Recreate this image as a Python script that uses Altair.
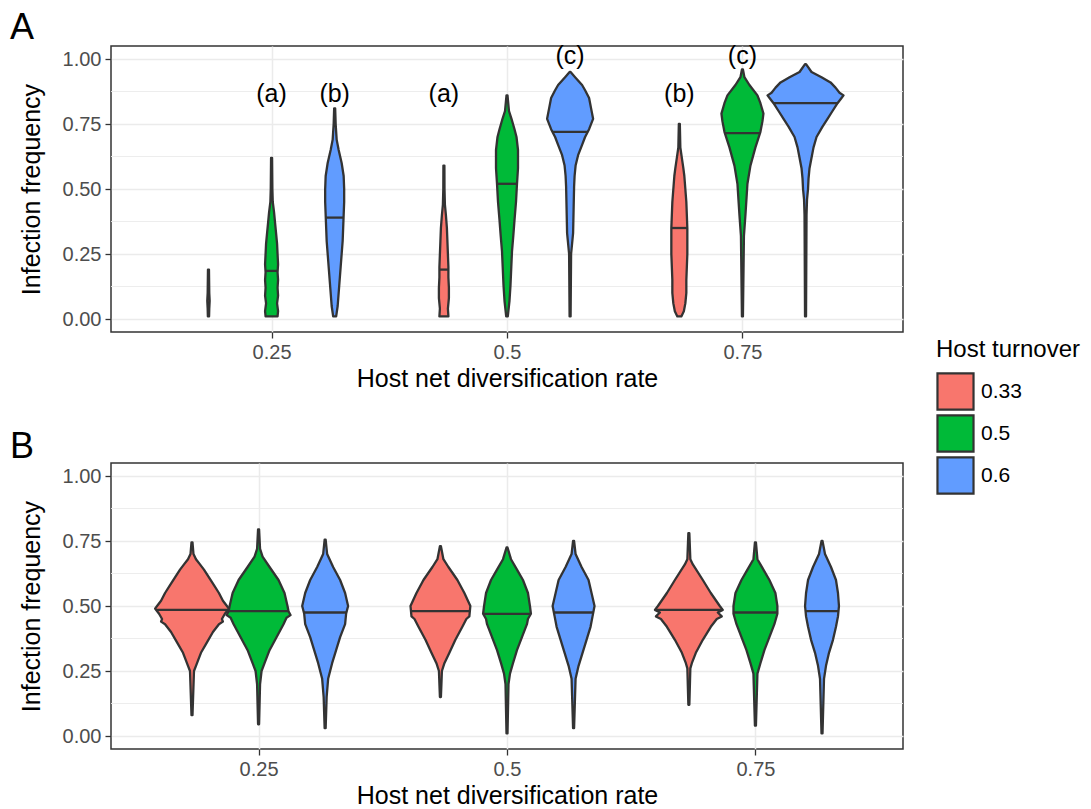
import altair as alt
import pandas as pd
import numpy as np

FONT = "Liberation Sans"

# ---------------- categories ----------------
rates = [0.25, 0.5, 0.75]
rate_labels = ["0.25", "0.5", "0.75"]
turnovers = ["0.33", "0.5", "0.6"]
turn_colors = ["#F8766D", "#00BA38", "#619CFF"]
y_ticks = [0.0, 0.25, 0.5, 0.75, 1.0]
y_minor = [0.125, 0.375, 0.625, 0.875]

# ---------------- violin profiles (value, half-width density) ----------------
# Panel A
A_r25_y = [0.01, 0.04, 0.07, 0.10, 0.19]
A_r25_w = [0.6, 0.8, 1.2, 0.8, 0.5]
A_r25_med = 0.06
A_g25_y = [0.01, 0.03, 0.06, 0.09, 0.12, 0.15, 0.18, 0.21, 0.25, 0.29, 0.33, 0.37, 0.41, 0.45, 0.50, 0.62]
A_g25_w = [6, 6.5, 5.5, 6.5, 6, 6.5, 6, 6.5, 6, 5.5, 4.5, 3.5, 2.5, 1.2, 0.8, 0.5]
A_g25_med = 0.185
A_b25_y = [0.01, 0.05, 0.10, 0.15, 0.20, 0.25, 0.30, 0.35, 0.40, 0.45, 0.50, 0.55, 0.60, 0.65, 0.69, 0.75, 0.81]
A_b25_w = [1.5, 3, 4, 5, 6, 7, 8, 8.5, 9, 9.5, 9.5, 9, 7, 4, 2, 1, 0.5]
A_b25_med = 0.39
A_r50_y = [0.01, 0.04, 0.08, 0.12, 0.16, 0.20, 0.25, 0.30, 0.35, 0.40, 0.44, 0.50, 0.59]
A_r50_w = [4.5, 4, 5, 5, 4.5, 4.5, 4, 3.5, 3, 2, 1, 0.6, 0.5]
A_r50_med = 0.19
A_g50_y = [0.01, 0.07, 0.13, 0.20, 0.26, 0.32, 0.38, 0.45, 0.52, 0.58, 0.65, 0.70, 0.73, 0.77, 0.80, 0.86]
A_g50_w = [0.8, 2.5, 3.5, 4.3, 5, 6.3, 7.5, 9, 10, 11, 11, 9.5, 7.5, 4.5, 2, 0.5]
A_g50_med = 0.52
A_b50_y = [0.01, 0.25, 0.33, 0.42, 0.51, 0.55, 0.59, 0.63, 0.67, 0.70, 0.73, 0.77, 0.81, 0.85, 0.88, 0.90, 0.93, 0.95]
A_b50_w = [0.5, 1, 3, 3.5, 4, 4.5, 5.5, 8, 12, 15, 19, 23, 21, 19, 15, 12, 5, 0.5]
A_b50_med = 0.72
A_r75_y = [0.01, 0.03, 0.06, 0.10, 0.15, 0.20, 0.25, 0.30, 0.35, 0.40, 0.45, 0.50, 0.55, 0.58, 0.62, 0.66, 0.75]
A_r75_w = [2, 4.5, 6, 7, 7, 7.5, 8, 8, 8, 7.5, 7, 6, 5, 4, 2.5, 1, 0.5]
A_r75_med = 0.35
A_g75_y = [0.01, 0.32, 0.40, 0.46, 0.52, 0.59, 0.66, 0.72, 0.76, 0.79, 0.83, 0.86, 0.90, 0.93, 0.96]
A_g75_w = [0.5, 1.5, 3, 4, 5, 8, 13, 18, 20, 21, 18, 15, 7, 2, 0.5]
A_g75_med = 0.715
A_b75_y = [0.01, 0.40, 0.46, 0.50, 0.54, 0.58, 0.62, 0.66, 0.70, 0.74, 0.77, 0.80, 0.83, 0.85, 0.86, 0.87, 0.89, 0.91, 0.93, 0.95, 0.98]
A_b75_w = [0.5, 1, 1.5, 2.5, 3, 4, 6, 8, 11, 17, 22, 27, 32, 36, 38, 34, 30, 25, 16, 6, 0.5]
A_b75_med = 0.83

# Panel B
B_r25_y = [0.08, 0.25, 0.27, 0.29, 0.32, 0.36, 0.40, 0.43, 0.44, 0.45, 0.47, 0.49, 0.50, 0.52, 0.55, 0.58, 0.61, 0.64, 0.66, 0.68, 0.70, 0.745]
B_r25_w = [0.5, 2, 4, 6, 9, 15, 21, 27, 31, 30, 33, 37, 35, 31, 27, 22, 17, 12, 8, 4, 1.5, 0.5]
B_r25_med = 0.485
B_g25_y = [0.045, 0.20, 0.25, 0.28, 0.33, 0.38, 0.43, 0.455, 0.465, 0.48, 0.50, 0.55, 0.60, 0.65, 0.69, 0.72, 0.795]
B_g25_w = [0.5, 1.5, 3, 6, 11, 18, 25, 28, 32, 30, 29, 26, 20, 11, 4, 1.5, 0.5]
B_g25_med = 0.48
B_b25_y = [0.03, 0.15, 0.22, 0.28, 0.33, 0.38, 0.43, 0.47, 0.50, 0.55, 0.60, 0.65, 0.70, 0.755]
B_b25_w = [0.5, 1.5, 3, 7, 11, 15, 20, 21, 23, 20, 15, 8, 2, 0.5]
B_b25_med = 0.475
B_r50_y = [0.15, 0.25, 0.28, 0.32, 0.37, 0.42, 0.45, 0.46, 0.50, 0.55, 0.60, 0.65, 0.68, 0.73]
B_r50_w = [0.5, 1.5, 4, 9, 15, 22, 26, 29, 30, 24, 17, 8, 3, 0.5]
B_r50_med = 0.48
B_g50_y = [0.01, 0.20, 0.24, 0.28, 0.33, 0.38, 0.43, 0.45, 0.47, 0.50, 0.55, 0.60, 0.64, 0.68, 0.725]
B_g50_w = [0.5, 1.5, 3, 6, 10, 15, 20, 21, 24, 23, 21, 16, 10, 4, 0.5]
B_g50_med = 0.47
B_b50_y = [0.03, 0.22, 0.27, 0.32, 0.37, 0.42, 0.46, 0.50, 0.55, 0.60, 0.65, 0.70, 0.75]
B_b50_w = [0.5, 2, 5, 9, 13, 17, 19, 21, 18, 15, 8, 2, 0.5]
B_b50_med = 0.475
B_r75_y = [0.12, 0.26, 0.28, 0.32, 0.37, 0.42, 0.45, 0.46, 0.475, 0.485, 0.50, 0.55, 0.60, 0.66, 0.68, 0.78]
B_r75_w = [0.5, 1.5, 3, 7, 14, 22, 28, 33, 29, 34, 31, 22, 14, 4, 1.5, 0.5]
B_r75_med = 0.485
B_g75_y = [0.04, 0.24, 0.28, 0.33, 0.38, 0.43, 0.47, 0.50, 0.55, 0.60, 0.64, 0.68, 0.745]
B_g75_w = [0.5, 2, 5, 9, 14, 19, 22, 22, 20, 14, 8, 2, 0.5]
B_g75_med = 0.475
B_b75_y = [0.01, 0.22, 0.27, 0.32, 0.37, 0.42, 0.46, 0.50, 0.55, 0.60, 0.65, 0.70, 0.75]
B_b75_w = [0.5, 2, 4, 7, 11, 14, 16, 17, 16, 14, 9, 3, 0.5]
B_b75_med = 0.48

# significance letters (panel A)
letters = ["(a)", "(b)", "(a)", "(c)", "(b)", "(c)"]
letter_rate = [0.25, 0.25, 0.5, 0.5, 0.75, 0.75]
letter_turn = ["0.5", "0.6", "0.33", "0.6", "0.33", "0.5"]
letter_height = [0.865, 0.865, 0.865, 1.01, 0.865, 1.01]

# ---------------- build tables ----------------
DODGE = {"0.33": -0.067, "0.5": 0.0, "0.6": 0.067}
SCALE = {"A": 1 / 942.0, "B": 1 / 996.0}   # density units -> x units
DOMAIN = {"A": [0.0795, 0.9205], "B": [0.1015, 0.8985]}

profiles = {
    "A": [(0.25, "0.33", A_r25_y, A_r25_w, A_r25_med), (0.25, "0.5", A_g25_y, A_g25_w, A_g25_med),
          (0.25, "0.6", A_b25_y, A_b25_w, A_b25_med), (0.5, "0.33", A_r50_y, A_r50_w, A_r50_med),
          (0.5, "0.5", A_g50_y, A_g50_w, A_g50_med), (0.5, "0.6", A_b50_y, A_b50_w, A_b50_med),
          (0.75, "0.33", A_r75_y, A_r75_w, A_r75_med), (0.75, "0.5", A_g75_y, A_g75_w, A_g75_med),
          (0.75, "0.6", A_b75_y, A_b75_w, A_b75_med)],
    "B": [(0.25, "0.33", B_r25_y, B_r25_w, B_r25_med), (0.25, "0.5", B_g25_y, B_g25_w, B_g25_med),
          (0.25, "0.6", B_b25_y, B_b25_w, B_b25_med), (0.5, "0.33", B_r50_y, B_r50_w, B_r50_med),
          (0.5, "0.5", B_g50_y, B_g50_w, B_g50_med), (0.5, "0.6", B_b50_y, B_b50_w, B_b50_med),
          (0.75, "0.33", B_r75_y, B_r75_w, B_r75_med), (0.75, "0.5", B_g75_y, B_g75_w, B_g75_med),
          (0.75, "0.6", B_b75_y, B_b75_w, B_b75_med)],
}


def tables(panel):
    rows, meds = [], []
    for rate, turn, ys, ws, med in profiles[panel]:
        xc = rate + DODGE[turn]
        vid = f"{panel}_{rate}_{turn}"
        for y, w in zip(ys, ws):
            h = w * SCALE[panel]
            rows.append({"vid": vid, "turnover": turn, "v": y, "left": xc - h, "right": xc + h})
        hm = float(np.interp(med, ys, ws)) * SCALE[panel]
        meds.append({"vid": vid, "med": med, "ml": xc - hm, "mr": xc + hm})
    return pd.DataFrame(rows), pd.DataFrame(meds)


grid_df = pd.DataFrame({"g": y_minor})
letters_df = pd.DataFrame({
    "label": letters,
    "x": [r + DODGE[t] for r, t in zip(letter_rate, letter_turn)],
    "y": letter_height,
})


def panel_chart(panel, title):
    vdf, mdf = tables(panel)
    xscale = alt.Scale(domain=DOMAIN[panel], nice=False, zero=False)
    yscale = alt.Scale(domain=[-0.05, 1.05], nice=False, zero=False)
    xaxis = alt.Axis(values=rates, labelExpr="datum.value == 0.5 ? '0.5' : format(datum.value, '.2f')",
                     title="Host net diversification rate", grid=True)
    yaxis = alt.Axis(values=y_ticks, format=".2f", title="Infection frequency", grid=True)

    minor = alt.Chart(grid_df).mark_rule(color="#EBEBEB", strokeWidth=0.9).encode(
        y=alt.Y("g:Q", scale=yscale, axis=yaxis))

    violins = alt.Chart(vdf).mark_area(
        orient="horizontal", stroke="#333333", strokeWidth=2.3, opacity=1, strokeJoin="round"
    ).encode(
        y=alt.Y("v:Q", scale=yscale, axis=yaxis),
        x=alt.X("left:Q", scale=xscale, axis=xaxis),
        x2="right:Q",
        color=alt.Color("turnover:N",
                        scale=alt.Scale(domain=turnovers, range=turn_colors),
                        legend=alt.Legend(title="Host turnover", orient="none",
                                          legendX=825, legendY=292)),
        detail="vid:N",
    )

    medians = alt.Chart(mdf).mark_rule(color="#333333", strokeWidth=2.3).encode(
        y="med:Q", x="ml:Q", x2="mr:Q")

    layers = [minor, violins, medians]
    if panel == "A":
        txt = alt.Chart(letters_df).mark_text(fontSize=25, font=FONT, color="black",
                                              baseline="middle").encode(
            x="x:Q", y="y:Q", text="label:N")
        layers.append(txt)

    return alt.layer(*layers).properties(
        width=792, height=286,
        title=alt.TitleParams(title, anchor="start", frame="bounds", fontSize=36,
                              font=FONT, fontWeight="normal", color="black", dx=-9, offset=-3),
    )


chart = alt.vconcat(panel_chart("A", "A"), panel_chart("B", "B"), spacing=36).configure(
    font=FONT,
    padding={"left": 9, "top": 9, "right": 5, "bottom": 2},
).configure_view(
    stroke="#333333", strokeWidth=1.5
).configure_axis(
    labelFont=FONT, labelFontSize=20, labelColor="#4D4D4D", labelPadding=4,
    titleFont=FONT, titleFontSize=25, titleFontWeight="normal", titleColor="black",
    tickColor="#333333", tickWidth=1.3, tickSize=6, domain=False,
    gridColor="#EBEBEB", gridWidth=1.5,
).configure_axisY(titlePadding=18).configure_axisX(titlePadding=4).configure_legend(
    symbolType="square", symbolSize=1300, symbolStrokeColor="#333333", symbolStrokeWidth=2.2,
    symbolOpacity=1, labelFont=FONT, labelFontSize=21, labelColor="black",
    titleFont=FONT, titleFontSize=24, titleFontWeight="normal", titleColor="black",
    rowPadding=-4, titlePadding=10, labelOffset=6,
)

chart.save("out.html", embed_options={"renderer": "svg", "actions": False})
